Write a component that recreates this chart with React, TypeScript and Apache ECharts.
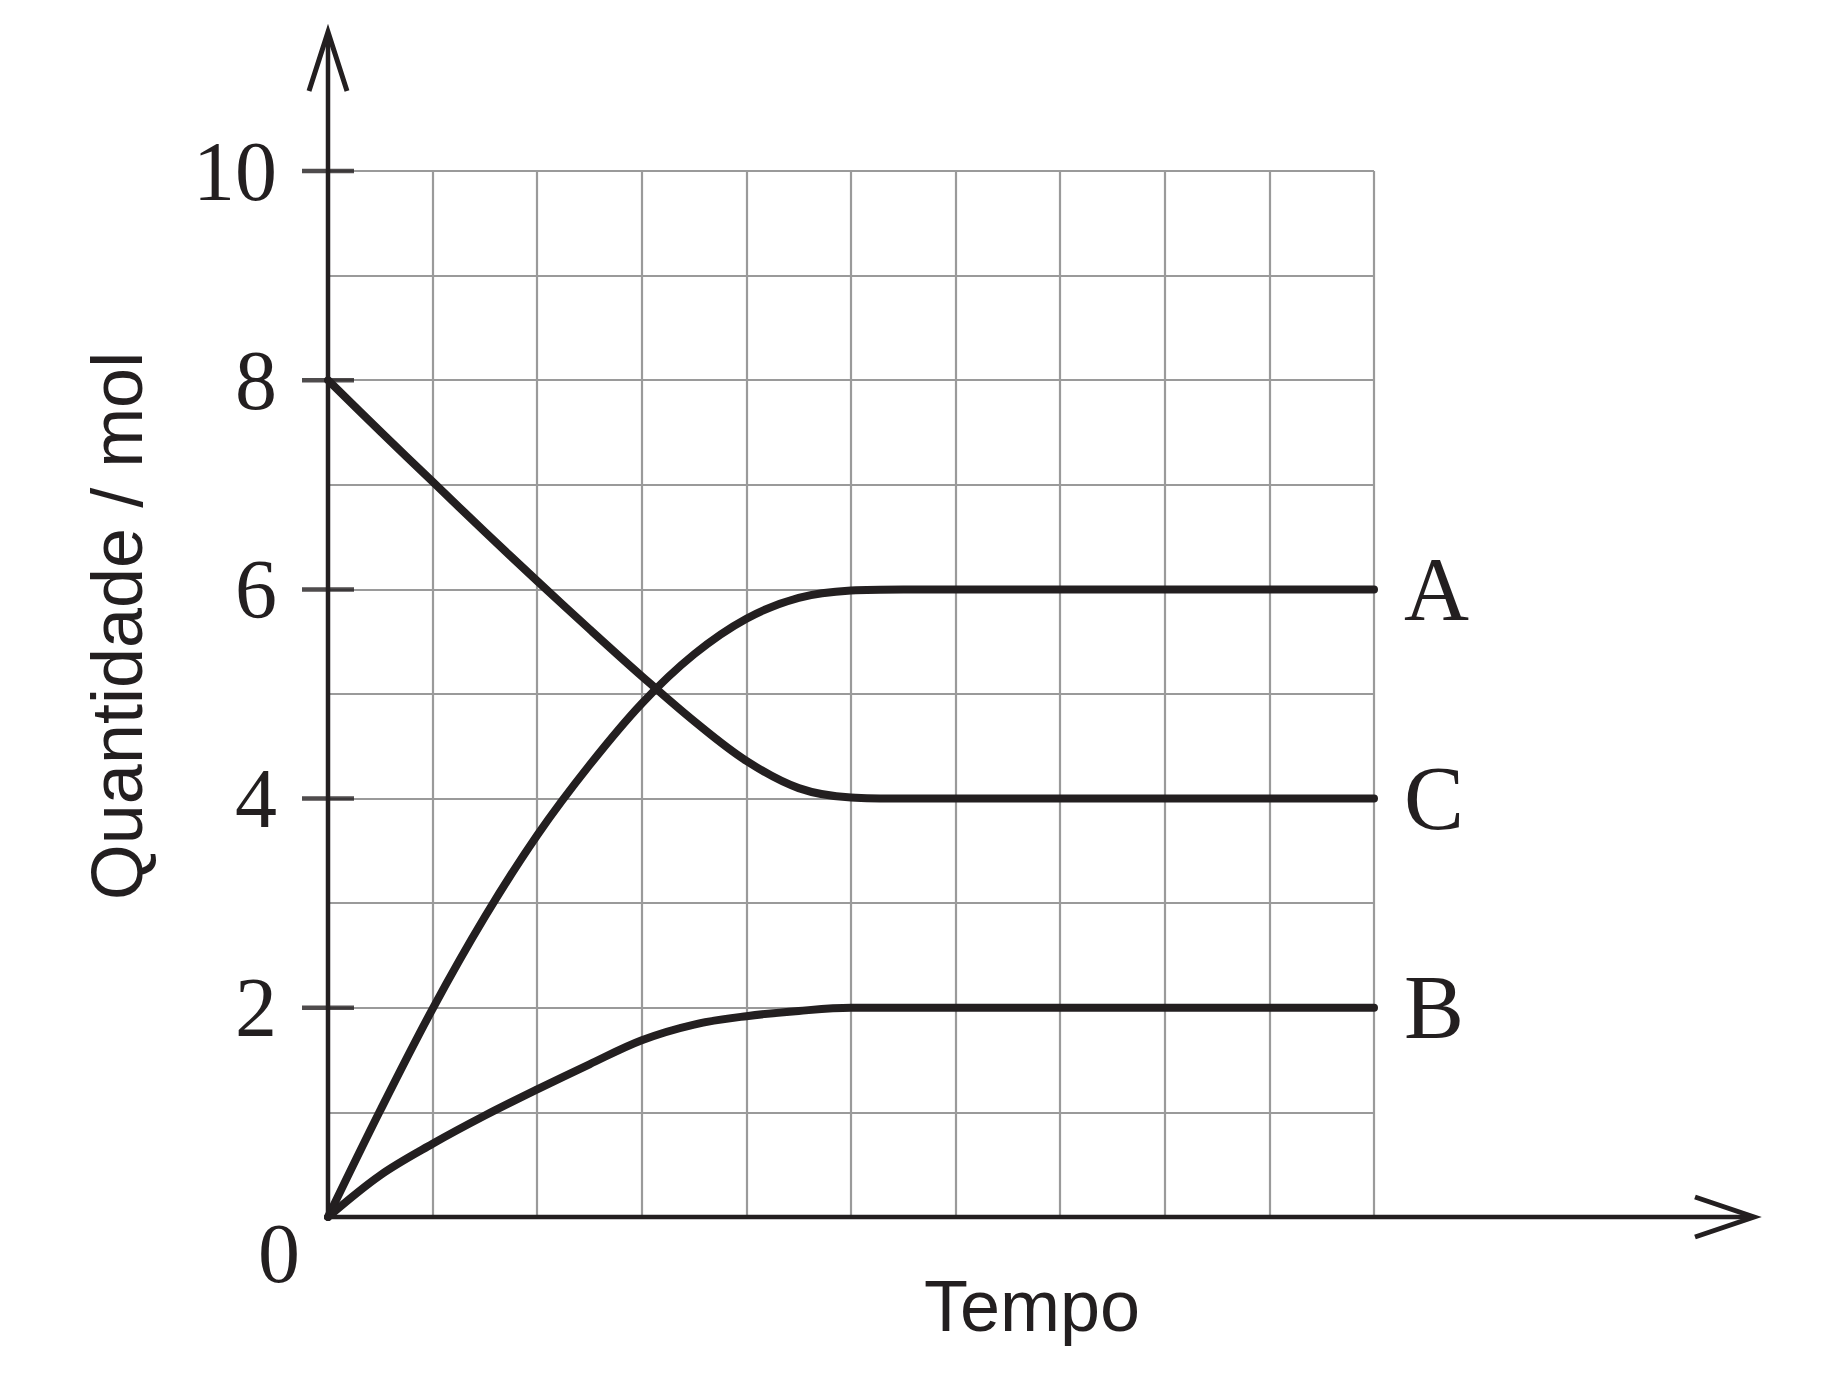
import { useEffect, useRef } from "react";
import * as echarts from "echarts";

// tempo (unidades da grelha) e quantidades
const tempo = [0, 0.5, 1, 1.5, 2, 2.5, 3, 3.5, 4, 4.5, 5, 5.5, 10];
const quantA = [0, 1.02, 1.99, 2.87, 3.65, 4.32, 4.91, 5.38, 5.72, 5.92, 5.99, 6.0, 6.0];
const quantB = [0, 0.4, 0.7, 0.97, 1.22, 1.46, 1.69, 1.84, 1.92, 1.97, 2.0, 2.0, 2.0];
const quantC = [8, 7.51, 7.03, 6.55, 6.08, 5.62, 5.17, 4.74, 4.36, 4.1, 4.01, 4.0, 4.0];
const yTicks = [2, 4, 6, 8, 10];

const INK = "#231f20";
const GRID_GRAY = "#9a9a9a";
const SERIF = "'Liberation Serif', 'Times New Roman', serif";
const SANS = "'Liberation Sans', Arial, sans-serif";

const GRID_LEFT = 328;
const GRID_TOP = 171;
const GRID_W = 1046;
const GRID_H = 1046;
const ORIGIN_X = GRID_LEFT;
const ORIGIN_Y = GRID_TOP + GRID_H;
const X_TIP = 1754;

const pairs = (ys: number[]) => ys.map((y, i) => [tempo[i], y]);

const curve = (name: string, ys: number[]) => ({
  name,
  type: "line",
  data: pairs(ys),
  smooth: 0.35,
  symbol: "none",
  lineStyle: { color: INK, width: 8, cap: "round", join: "round" },
  endLabel: {
    show: true,
    formatter: "{a}",
    distance: 30,
    color: INK,
    fontFamily: SERIF,
    fontSize: 90,
  },
  z: 5,
});

export default function App() {
  const ref = useRef<HTMLDivElement | null>(null);

  useEffect(() => {
    if (!ref.current) return;
    const chart = echarts.init(ref.current, undefined, { renderer: "svg" });

    chart.setOption({
      animation: false,
      backgroundColor: "#ffffff",
      grid: { left: GRID_LEFT, top: GRID_TOP, width: GRID_W, height: GRID_H },
      xAxis: {
        type: "value",
        min: 0,
        max: 10,
        interval: 1,
        axisLine: { show: false },
        axisTick: { show: false },
        axisLabel: { show: false },
        splitLine: { show: true, lineStyle: { color: GRID_GRAY, width: 2.2 } },
      },
      yAxis: {
        type: "value",
        min: 0,
        max: 10,
        interval: 2,
        axisLine: { show: false },
        axisTick: { show: false },
        minorTick: { show: false, splitNumber: 2 },
        minorSplitLine: { show: true, lineStyle: { color: GRID_GRAY, width: 2.2 } },
        splitLine: { show: true, lineStyle: { color: GRID_GRAY, width: 2.2 } },
        axisLabel: {
          margin: 51,
          color: INK,
          fontFamily: SERIF,
          fontSize: 84,
          formatter: (v: number) => (v === 0 ? "" : String(v)),
        },
      },
      series: [
        curve("A", quantA),
        curve("C", quantC),
        curve("B", quantB),
        {
          name: "ticks",
          type: "scatter",
          data: yTicks.map((v) => [0, v]),
          symbol: "rect",
          symbolSize: [52, 4.5],
          itemStyle: { color: INK },
          clip: false,
          silent: true,
          z: 6,
        },
      ],
      graphic: [
        // eixo vertical com seta aberta
        {
          type: "line",
          z: 20,
          shape: { x1: ORIGIN_X, y1: ORIGIN_Y + 2, x2: ORIGIN_X, y2: 34 },
          style: { stroke: INK, lineWidth: 4.5 },
        },
        {
          type: "polyline",
          z: 20,
          shape: { points: [[ORIGIN_X - 19, 91], [ORIGIN_X, 32], [ORIGIN_X + 19, 91]] },
          style: { stroke: INK, lineWidth: 5, fill: "none" },
        },
        // eixo horizontal com seta aberta
        {
          type: "line",
          z: 20,
          shape: { x1: ORIGIN_X - 2, y1: ORIGIN_Y, x2: X_TIP - 2, y2: ORIGIN_Y },
          style: { stroke: INK, lineWidth: 4.5 },
        },
        {
          type: "polyline",
          z: 20,
          shape: { points: [[X_TIP - 59, ORIGIN_Y - 20], [X_TIP, ORIGIN_Y], [X_TIP - 59, ORIGIN_Y + 20]] },
          style: { stroke: INK, lineWidth: 5, fill: "none" },
        },
        {
          type: "text",
          z: 20,
          x: 279,
          y: 1253,
          style: {
            text: "0",
            fill: INK,
            font: `84px ${SERIF}`,
            textAlign: "center",
            textVerticalAlign: "middle",
          },
        },
        {
          type: "text",
          z: 20,
          x: 1032,
          y: 1306,
          style: {
            text: "Tempo",
            fill: INK,
            font: `72px ${SANS}`,
            textAlign: "center",
            textVerticalAlign: "middle",
          },
        },
        {
          type: "text",
          z: 20,
          x: 117,
          y: 626,
          rotation: Math.PI / 2,
          style: {
            text: "Quantidade / mol",
            fill: INK,
            font: `72px ${SANS}`,
            textAlign: "center",
            textVerticalAlign: "middle",
          },
        },
      ],
    });

    return () => {
      chart.dispose();
    };
  }, []);

  return (
    <div
      ref={ref}
      style={{ position: "fixed", left: 0, top: 0, width: 1840, height: 1400, background: "#fff" }}
    />
  );
}
